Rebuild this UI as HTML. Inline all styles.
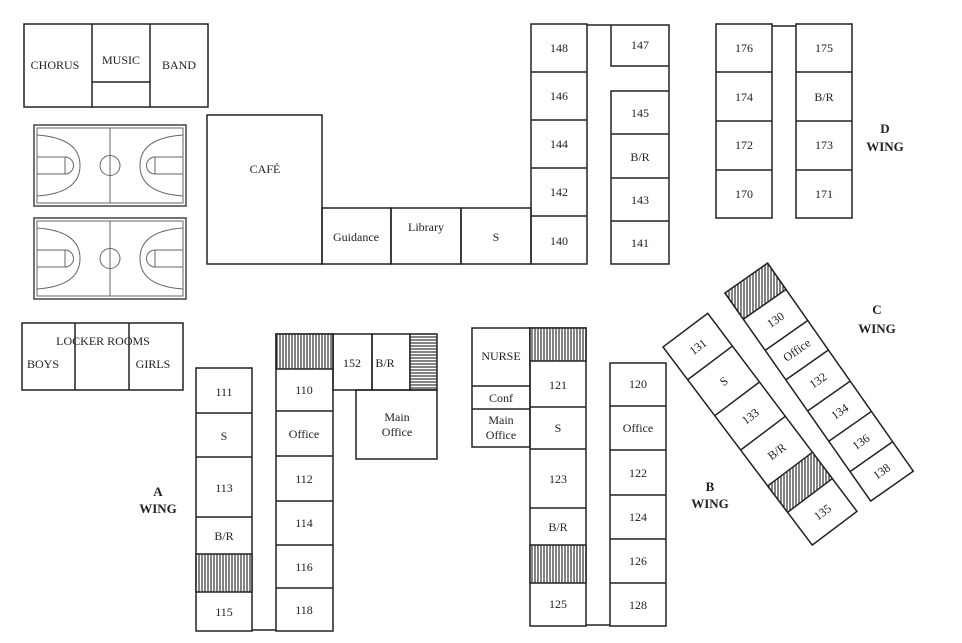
<!DOCTYPE html>
<html><head><meta charset="utf-8"><style>
html,body{margin:0;padding:0;background:#fff;}
svg{display:block;}
text{font-family:"Liberation Serif",serif;font-size:12px;fill:#222;text-anchor:middle;}
.b{font-weight:bold;font-size:13px;}
</style></head><body>
<svg width="962" height="643" viewBox="0 0 962 643" xmlns="http://www.w3.org/2000/svg">
<defs>
<pattern id="hv" width="3" height="3" patternUnits="userSpaceOnUse"><rect width="3" height="3" fill="#fff"/><line x1="1" y1="0" x2="1" y2="3" stroke="#333" stroke-width="1.2"/></pattern>
<pattern id="hvb" width="3" height="3" patternUnits="userSpaceOnUse" patternTransform="rotate(37)"><rect width="3" height="3" fill="#fff"/><line x1="1" y1="0" x2="1" y2="3" stroke="#333" stroke-width="1.2"/></pattern>
<pattern id="hvc" width="3" height="3" patternUnits="userSpaceOnUse" patternTransform="rotate(35)"><rect width="3" height="3" fill="#fff"/><line x1="1" y1="0" x2="1" y2="3" stroke="#333" stroke-width="1.2"/></pattern>
<pattern id="hh" width="3" height="3" patternUnits="userSpaceOnUse"><rect width="3" height="3" fill="#fff"/><line x1="0" y1="1" x2="3" y2="1" stroke="#333" stroke-width="1.2"/></pattern>
</defs>
<g fill="none" stroke="#222" stroke-width="1.5">
<rect x="24" y="24" width="184" height="83"/>
<line x1="92" y1="24" x2="92" y2="107"/><line x1="150" y1="24" x2="150" y2="107"/><line x1="92" y1="82" x2="150" y2="82"/>
<rect x="22" y="323" width="161" height="67"/>
<line x1="75" y1="323" x2="75" y2="390"/><line x1="129" y1="323" x2="129" y2="390"/>
<rect x="207" y="115" width="115" height="149"/>
<rect x="322" y="208" width="69" height="56"/><rect x="391" y="208" width="70" height="56"/><rect x="461" y="208" width="70" height="56"/>
<rect x="531" y="24" width="56" height="240"/>
<line x1="531" y1="72" x2="587" y2="72"/><line x1="531" y1="120" x2="587" y2="120"/><line x1="531" y1="168" x2="587" y2="168"/><line x1="531" y1="216" x2="587" y2="216"/>
<polyline points="587,25 669,25 669,264 611,264 611,91 669,91"/>
<polyline points="611,25 611,66 669,66"/>
<line x1="611" y1="134" x2="669" y2="134"/><line x1="611" y1="178" x2="669" y2="178"/><line x1="611" y1="221" x2="669" y2="221"/>
<rect x="716" y="24" width="56" height="194"/><rect x="796" y="24" width="56" height="194"/>
<line x1="772" y1="26" x2="796" y2="26"/>
<line x1="716" y1="72" x2="772" y2="72"/><line x1="716" y1="121" x2="772" y2="121"/><line x1="716" y1="170" x2="772" y2="170"/>
<line x1="796" y1="72" x2="852" y2="72"/><line x1="796" y1="121" x2="852" y2="121"/><line x1="796" y1="170" x2="852" y2="170"/>
<rect x="196" y="368" width="56" height="263"/>
<line x1="196" y1="413" x2="252" y2="413"/><line x1="196" y1="457" x2="252" y2="457"/><line x1="196" y1="517" x2="252" y2="517"/>
<rect x="196" y="554" width="56" height="38" fill="url(#hv)"/>
<rect x="276" y="334" width="57" height="297"/>
<rect x="276" y="334" width="57" height="35" fill="url(#hv)"/>
<line x1="276" y1="411" x2="333" y2="411"/><line x1="276" y1="456" x2="333" y2="456"/><line x1="276" y1="501" x2="333" y2="501"/><line x1="276" y1="545" x2="333" y2="545"/><line x1="276" y1="588" x2="333" y2="588"/>
<line x1="252" y1="630" x2="276" y2="630"/>
<rect x="333" y="334" width="39" height="56"/><rect x="372" y="334" width="38" height="56"/>
<rect x="410" y="334" width="27" height="56" fill="url(#hh)"/>
<rect x="356" y="390" width="81" height="69"/>
<rect x="472" y="328" width="58" height="119"/>
<line x1="472" y1="386" x2="530" y2="386"/><line x1="472" y1="409" x2="530" y2="409"/>
<rect x="530" y="328" width="56" height="298"/>
<rect x="530" y="328" width="56" height="33" fill="url(#hv)"/>
<line x1="530" y1="407" x2="586" y2="407"/><line x1="530" y1="449" x2="586" y2="449"/><line x1="530" y1="508" x2="586" y2="508"/>
<rect x="530" y="545" width="56" height="38" fill="url(#hv)"/>
<rect x="610" y="363" width="56" height="263"/>
<line x1="610" y1="406" x2="666" y2="406"/><line x1="610" y1="450" x2="666" y2="450"/><line x1="610" y1="495" x2="666" y2="495"/><line x1="610" y1="539" x2="666" y2="539"/><line x1="610" y1="583" x2="666" y2="583"/>
<line x1="586" y1="625" x2="610" y2="625"/>
</g>
<g fill="none" stroke="#666" stroke-width="1">
<g id="court">
<rect x="34" y="125" width="152" height="81" stroke="#444" stroke-width="1.5"/>
<rect x="37" y="128" width="146" height="75"/>
<line x1="110" y1="128" x2="110" y2="203"/>
<circle cx="110" cy="165.5" r="10"/>
<path d="M37 135 Q80 138 80 165.5 Q80 193 37 196"/>
<rect x="37" y="157" width="28" height="17"/>
<path d="M65 157 A8.5 8.5 0 0 1 65 174"/>
<path d="M183 135 Q140 138 140 165.5 Q140 193 183 196"/>
<rect x="155" y="157" width="28" height="17"/>
<path d="M155 157 A8.5 8.5 0 0 0 155 174"/>
</g>
<use href="#court" transform="translate(0,93)"/>
</g>
<g transform="translate(663,347) rotate(-37)" fill="none" stroke="#222" stroke-width="1.5">
<rect x="0" y="0" width="56" height="248"/>
<line x1="0" y1="41" x2="56" y2="41"/><line x1="0" y1="86" x2="56" y2="86"/><line x1="0" y1="129" x2="56" y2="129"/>
<rect x="0" y="174" width="56" height="33" fill="url(#hvb)"/>
<g stroke="none">
<text x="28" y="25">131</text><text x="28" y="68">S</text><text x="28" y="112">133</text><text x="28" y="156">B/R</text><text x="28" y="232">135</text>
</g>
</g>
<g transform="translate(725,293) rotate(-35)" fill="none" stroke="#222" stroke-width="1.5">
<rect x="0" y="0" width="52" height="254"/>
<rect x="0" y="0" width="52" height="32" fill="url(#hvc)"/>
<line x1="0" y1="70" x2="52" y2="70"/><line x1="0" y1="106" x2="52" y2="106"/><line x1="0" y1="144" x2="52" y2="144"/><line x1="0" y1="181" x2="52" y2="181"/><line x1="0" y1="218" x2="52" y2="218"/>
<g stroke="none">
<text x="26" y="55">130</text><text x="26" y="92">Office</text><text x="26" y="129">132</text><text x="26" y="167">134</text><text x="26" y="204">136</text><text x="26" y="240">138</text>
</g>
</g>
<text x="55" y="69">CHORUS</text><text x="121" y="64">MUSIC</text><text x="179" y="69">BAND</text>
<text x="103" y="345">LOCKER ROOMS</text><text x="43" y="368">BOYS</text><text x="153" y="368">GIRLS</text>
<text x="265" y="173">CAFÉ</text>
<text x="356" y="241">Guidance</text><text x="426" y="231">Library</text><text x="496" y="241">S</text>
<text x="559" y="52">148</text><text x="559" y="100">146</text><text x="559" y="148">144</text><text x="559" y="196">142</text><text x="559" y="245">140</text>
<text x="640" y="49">147</text><text x="640" y="117">145</text><text x="640" y="161">B/R</text><text x="640" y="204">143</text><text x="640" y="247">141</text>
<text x="744" y="52">176</text><text x="744" y="101">174</text><text x="744" y="149">172</text><text x="744" y="198">170</text>
<text x="824" y="52">175</text><text x="824" y="101">B/R</text><text x="824" y="149">173</text><text x="824" y="198">171</text>
<text class="b" x="885" y="133">D</text><text class="b" x="885" y="151">WING</text>
<text class="b" x="877" y="314">C</text><text class="b" x="877" y="333">WING</text>
<text class="b" x="710" y="491">B</text><text class="b" x="710" y="508">WING</text>
<text class="b" x="158" y="496">A</text><text class="b" x="158" y="513">WING</text>
<text x="224" y="396">111</text><text x="224" y="440">S</text><text x="224" y="492">113</text><text x="224" y="540">B/R</text><text x="224" y="616">115</text>
<text x="304" y="394">110</text><text x="304" y="438">Office</text><text x="304" y="483">112</text><text x="304" y="527">114</text><text x="304" y="571">116</text><text x="304" y="614">118</text>
<text x="352" y="367">152</text><text x="385" y="367">B/R</text>
<text x="397" y="421">Main</text><text x="397" y="436">Office</text>
<text x="501" y="360">NURSE</text><text x="501" y="402">Conf</text><text x="501" y="424">Main</text><text x="501" y="439">Office</text>
<text x="558" y="389">121</text><text x="558" y="432">S</text><text x="558" y="483">123</text><text x="558" y="531">B/R</text><text x="558" y="608">125</text>
<text x="638" y="388">120</text><text x="638" y="432">Office</text><text x="638" y="477">122</text><text x="638" y="521">124</text><text x="638" y="565">126</text><text x="638" y="609">128</text>
</svg>
</body></html>
